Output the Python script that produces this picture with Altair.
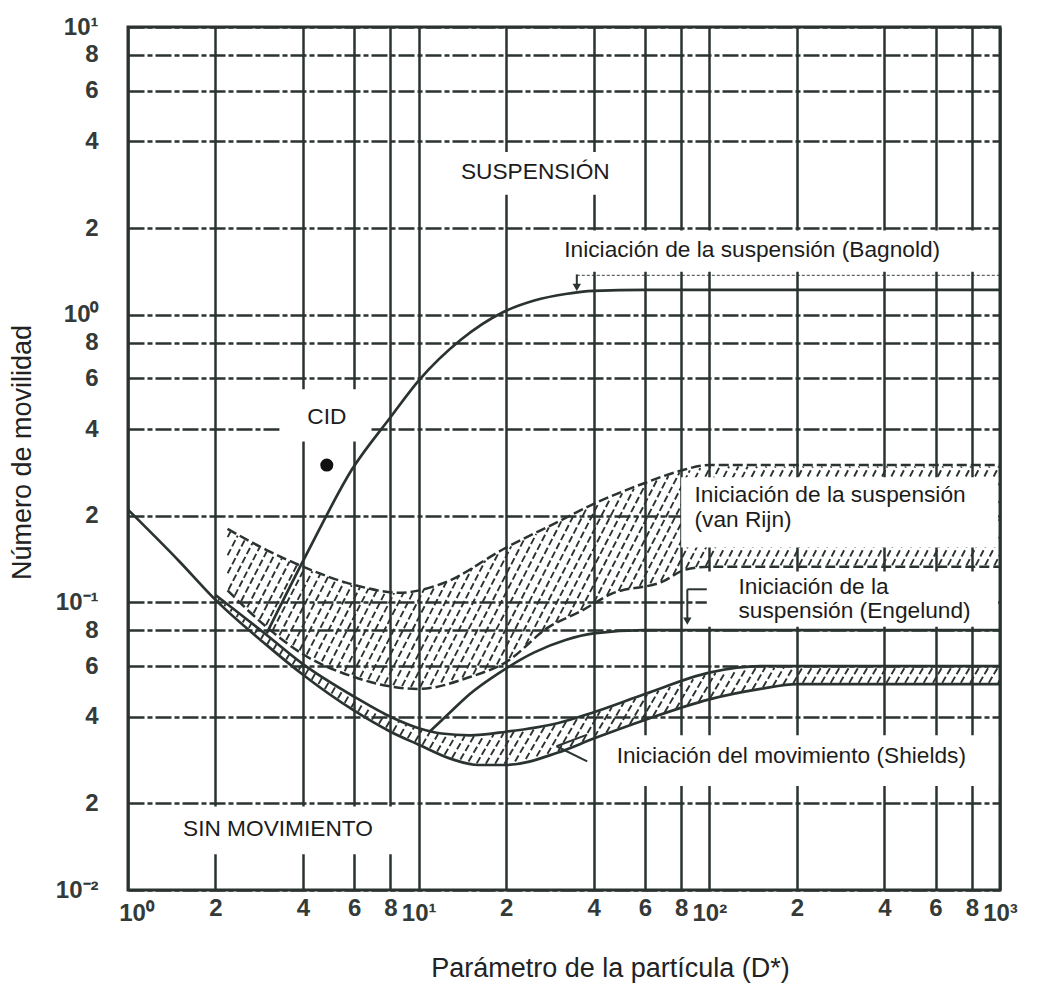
import numpy as np
import pandas as pd
import altair as alt

# ---------------------------------------------------------------- axes
X_TICKS = [1, 2, 4, 6, 8, 10, 20, 40, 60, 80, 100, 200, 400, 600, 800, 1000]
X_LABELS = ["10⁰", "2", "4", "6", "8", "10¹", "2", "4", "6", "8",
            "10²", "2", "4", "6", "8", "10³"]
Y_TICKS = [0.01, 0.02, 0.04, 0.06, 0.08, 0.1, 0.2, 0.4, 0.6, 0.8,
           1, 2, 4, 6, 8, 10]
Y_LABELS = ["10⁻²", "2", "4", "6", "8", "10⁻¹", "2", "4", "6", "8",
            "10⁰", "2", "4", "6", "8", "10¹"]
X_DECADES = [1, 10, 100, 1000]

# ---------------------------------------------------------------- curves
# Shields band (iniciación del movimiento)
SHIELDS_LOW_X = [1, 1.5, 2, 3, 4, 6, 8, 10, 13, 16, 20, 30, 40, 60, 100, 150, 200, 1000]
SHIELDS_LOW_Y = [0.21, 0.139, 0.102, 0.071, 0.056, 0.042, 0.0355, 0.032, 0.0285,
                 0.0272, 0.0272, 0.030, 0.0336, 0.039, 0.046, 0.050, 0.052, 0.052]
SHIELDS_UP_X = [2, 3, 4, 6, 8, 10, 12, 15, 20, 30, 40, 60, 100, 150, 200, 1000]
SHIELDS_UP_Y = [0.106, 0.077, 0.061, 0.047, 0.040, 0.0365, 0.035, 0.0345, 0.0355,
                0.038, 0.0415, 0.048, 0.057, 0.060, 0.060, 0.060]

# van Rijn band (iniciación de la suspensión)
VANRIJN_UP_X = [2.2, 3, 4, 6, 8.6, 12, 20, 30, 40, 60, 78, 100, 1000]
VANRIJN_UP_Y = [0.18, 0.152, 0.133, 0.115, 0.108, 0.116, 0.155, 0.19, 0.22,
                0.26, 0.285, 0.30, 0.30]
VANRIJN_LOW_X = [2.2, 3, 4, 6, 8, 10, 15, 20, 28, 36, 46, 69, 83, 100, 1000]
VANRIJN_LOW_Y = [0.11, 0.082, 0.066, 0.055, 0.051, 0.050, 0.055, 0.062, 0.082,
                 0.093, 0.107, 0.118, 0.13, 0.133, 0.133]

# Engelund
ENGELUND_X = [10.9, 13, 15, 19, 25, 32, 40, 60, 1000]
ENGELUND_Y = [0.0355, 0.042, 0.048, 0.057, 0.067, 0.074, 0.078, 0.080, 0.080]

# Bagnold
BAGNOLD_X = [3.0, 4.2, 5.9, 8, 10, 14, 19.5, 25, 32, 40, 60, 1000]
BAGNOLD_Y = [0.078, 0.153, 0.29, 0.44, 0.59, 0.82, 1.02, 1.12, 1.18, 1.21, 1.22, 1.22]
BAGNOLD_TOP_X = [35, 1000]
BAGNOLD_TOP_Y = [1.37, 1.37]

# measured point
CID_X = [4.83]
CID_Y = [0.30]

# ---------------------------------------------------------------- annotations
BOX_X = [13.8, 29.8, 3.33, 80, 98, 41, 1.02]
BOX_X2 = [47, 985, 6.79, 985, 985, 985, 9.3]
BOX_Y = [2.61, 1.41, 0.362, 0.155, 0.0823, 0.023, 0.0133]
BOX_Y2 = [3.68, 1.96, 0.55, 0.272, 0.128, 0.0345, 0.0195]

TEXTS = ["SUSPENSIÓN", "Iniciación de la suspensión (Bagnold)", "CID",
         "Iniciación de la suspensión", "(van Rijn)",
         "Iniciación de la", "suspensión (Engelund)",
         "Iniciación del movimiento (Shields)", "SIN MOVIMIENTO"]
TEXT_X = [25.2, 31.7, 4.83, 88.9, 88.9, 126, 126, 48, 1.546]
TEXT_Y = [3.14, 1.68, 0.44, 0.237, 0.193, 0.1127, 0.093, 0.0292, 0.0163]
TEXT_ALIGN = ["center", "left", "center", "left", "left", "left", "left", "left", "left"]

# leader lines (start -> end)
LEAD_X = [98, 84, 35, 38, 29.8]
LEAD_Y = [0.111, 0.111, 1.38, 0.0347, 0.0316]
LEAD_X2 = [84, 84, 35, 29.8, 38]
LEAD_Y2 = [0.111, 0.087, 1.25, 0.0316, 0.028]
HEAD_X = [84, 35]
HEAD_Y = [0.086, 1.245]

INK = "#2a3331"
FONT = "Liberation Sans"


def hatch_segments(up_x, up_y, lo_x, lo_y, step, angle_deg):
    """Diagonal hatch strokes clipped between two boundary curves (log-log)."""
    ux, uy = np.log10(up_x), np.log10(up_y)
    lx, ly = np.log10(lo_x), np.log10(lo_y)
    u_min, u_max = max(ux[0], lx[0]), min(ux[-1], lx[-1])
    v_min, v_max = min(ly.min(), uy.min()), max(uy.max(), ly.max())
    cot = 1.0 / np.tan(np.radians(angle_deg))
    v = np.linspace(v_min, v_max, 800)
    rows = []
    t = u_min - (v_max - v_min) * cot
    while t <= u_max:
        u = t + (v - v_min) * cot
        ok = (u >= u_min) & (u <= u_max)
        ok &= (v <= np.interp(u, ux, uy) - 0.004) & (v >= np.interp(u, lx, ly) + 0.004)
        idx = np.flatnonzero(ok)
        if idx.size:
            br = np.flatnonzero(np.diff(idx) > 1)
            starts = np.r_[idx[0], idx[br + 1]]
            ends = np.r_[idx[br], idx[-1]]
            for s, e in zip(starts, ends):
                if e > s:
                    rows.append({"x": 10 ** u[s], "y": 10 ** v[s],
                                 "x2": 10 ** u[e], "y2": 10 ** v[e]})
        t += step
    return pd.DataFrame(rows)


def label_expr(values, labels):
    parts = [f"abs(datum.value - {v}) < {v * 1e-6:g} ? '{lab}'"
             for v, lab in zip(values, labels)]
    return " : ".join(parts) + " : ''"


def curve(name, xs, ys):
    return pd.DataFrame({"name": name, "x": xs, "y": ys, "o": range(len(xs))})


solid = pd.concat([
    curve("shields_low", SHIELDS_LOW_X, SHIELDS_LOW_Y),
    curve("shields_up", SHIELDS_UP_X, SHIELDS_UP_Y),
    curve("engelund", ENGELUND_X, ENGELUND_Y),
    curve("bagnold", BAGNOLD_X, BAGNOLD_Y),
])
dashed = pd.concat([
    curve("vanrijn_up", VANRIJN_UP_X, VANRIJN_UP_Y),
    curve("vanrijn_low", VANRIJN_LOW_X, VANRIJN_LOW_Y),
])
dotted = curve("bagnold_top", BAGNOLD_TOP_X, BAGNOLD_TOP_Y)

hatch = pd.concat([
    hatch_segments(VANRIJN_UP_X, VANRIJN_UP_Y, VANRIJN_LOW_X, VANRIJN_LOW_Y, 0.032, 63),
    hatch_segments(SHIELDS_UP_X, SHIELDS_UP_Y, SHIELDS_LOW_X, SHIELDS_LOW_Y, 0.032, 60),
])

boxes = pd.DataFrame({"x": BOX_X, "x2": BOX_X2, "y": BOX_Y, "y2": BOX_Y2})
texts = pd.DataFrame({"x": TEXT_X, "y": TEXT_Y, "t": TEXTS, "a": TEXT_ALIGN})
leads = pd.DataFrame({"x": LEAD_X, "y": LEAD_Y, "x2": LEAD_X2, "y2": LEAD_Y2})
heads = pd.DataFrame({"x": HEAD_X, "y": HEAD_Y})
cid = pd.DataFrame({"x": CID_X, "y": CID_Y})

xscale = alt.Scale(type="log", domain=[1, 1000], nice=False)
yscale = alt.Scale(type="log", domain=[0.01, 10], nice=False)

decade_test = " || ".join(f"datum.value == {d}" for d in X_DECADES)

xaxis = alt.Axis(
    values=X_TICKS, labelExpr=label_expr(X_TICKS, X_LABELS),
    grid=True, gridColor=INK, gridWidth=2.5, gridOpacity=1,
    ticks=False, domain=False, labelBaseline="top",
    labelPadding={"condition": {"test": decade_test, "value": 11}, "value": 6},
    labelOffset={"condition": {"test": "datum.value == 1", "value": 8}, "value": 0},
    labelFont=FONT, labelFontSize=24, labelFontWeight="bold", labelColor="#343a38",
    labelOverlap=False, labelFlush=False,
    titleFont=FONT, titleFontSize=27, titleFontWeight="normal", titleColor="#222222",
    titleX=482, titleY=78, titleAlign="center", titleBaseline="middle",
)
yaxis = alt.Axis(
    values=Y_TICKS, labelExpr=label_expr(Y_TICKS, Y_LABELS),
    grid=True, gridColor=INK, gridWidth=2.3, gridOpacity=1, gridDash=[16, 3, 5, 3],
    ticks=False, domain=False, labelPadding=30, labelBaseline="middle",
    labelFont=FONT, labelFontSize=24, labelFontWeight="bold", labelColor="#343a38",
    labelOverlap=False, labelFlush=False,
    titleFont=FONT, titleFontSize=27, titleFontWeight="normal", titleColor="#222222",
    titleX=-106, titleY=425, titleAngle=270, titleAlign="center", titleBaseline="middle",
)

X_TITLE = "Parámetro de la partícula (D*)"
Y_TITLE = "Número de movilidad"


def ex(field="x"):
    return alt.X(f"{field}:Q", scale=xscale, axis=xaxis, title=X_TITLE)


def ey(field="y"):
    return alt.Y(f"{field}:Q", scale=yscale, axis=yaxis, title=Y_TITLE)


hatch_layer = alt.Chart(hatch).mark_rule(
    color=INK, strokeWidth=1.9, strokeDash=[7, 3]
).encode(x=ex(), y=ey(), x2="x2:Q", y2="y2:Q")

box_layer = alt.Chart(boxes).mark_rect(fill="white", stroke=None).encode(
    x=ex(), y=ey(), x2="x2:Q", y2="y2:Q")

solid_layer = alt.Chart(solid).mark_line(
    color=INK, strokeWidth=2.7, interpolate="monotone"
).encode(x=ex(), y=ey(), detail="name:N", order="o:Q")

dashed_layer = alt.Chart(dashed).mark_line(
    color=INK, strokeWidth=2.5, strokeDash=[10, 4], interpolate="monotone"
).encode(x=ex(), y=ey(), detail="name:N", order="o:Q")

dotted_layer = alt.Chart(dotted).mark_line(
    color=INK, strokeWidth=1.4, strokeDash=[3, 2], opacity=0.75
).encode(x=ex(), y=ey(), order="o:Q")

lead_layer = alt.Chart(leads).mark_rule(color=INK, strokeWidth=2).encode(
    x=ex(), y=ey(), x2="x2:Q", y2="y2:Q")

head_layer = alt.Chart(heads).mark_point(
    shape="triangle-down", filled=True, color=INK, size=70, opacity=1
).encode(x=ex(), y=ey())

cid_layer = alt.Chart(cid).mark_point(
    shape="circle", filled=True, color="#111111", size=170, opacity=1
).encode(x=ex(), y=ey())

text_left = alt.Chart(texts[texts.a == "left"]).mark_text(
    font=FONT, fontSize=22.7, color="#1c1c1c", align="left", baseline="middle"
).encode(x=ex(), y=ey(), text="t:N")

text_center = alt.Chart(texts[texts.a == "center"]).mark_text(
    font=FONT, fontSize=22.7, color="#1c1c1c", align="center", baseline="middle"
).encode(x=ex(), y=ey(), text="t:N")

chart = alt.layer(
    hatch_layer, box_layer, solid_layer, dashed_layer, dotted_layer,
    lead_layer, head_layer, cid_layer, text_left, text_center,
).properties(
    width=872, height=863, autosize="none",
    padding={"left": 128, "top": 27, "right": 38, "bottom": 101},
    background="white",
).configure_view(stroke=INK, strokeWidth=3)

chart.save("out.html", embed_options={"renderer": "svg", "actions": False})
